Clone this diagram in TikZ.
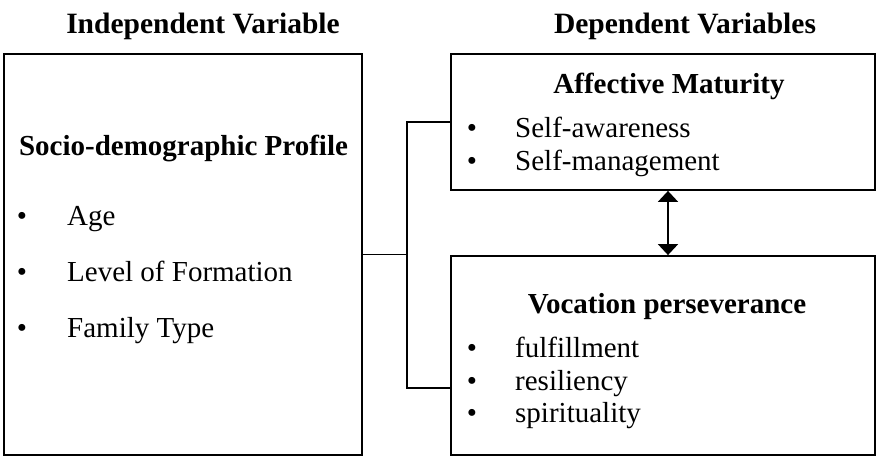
\documentclass[tikz,border=0pt]{standalone}
\usepackage{fontspec}
\setmainfont{Liberation Serif}
\usetikzlibrary{arrows.meta}
\begin{document}
\begin{tikzpicture}[x=1pt,y=-1pt,
  box/.style={draw, line width=1.8pt, minimum width=#1, inner sep=0pt},
  heading/.style={font=\fontsize{29.5}{32}\selectfont\bfseries, anchor=base, inner sep=0pt},
  title/.style={font=\fontsize{29}{32}\selectfont\bfseries, anchor=base, inner sep=0pt},
  item/.style={font=\fontsize{29}{32}\selectfont, anchor=base west, inner sep=0pt},
  bullet/.style={font=\fontsize{29}{32}\selectfont, anchor=base, inner sep=0pt},
  link/.style={line width=1.6pt},
  both/.style={line width=1.8pt, {Triangle[width=20pt,length=11pt]}-{Triangle[width=20pt,length=11pt]}}]
\useasboundingbox (0,0) rectangle (879,458);

% headings above the two columns
\node[heading] (hind) at (203,33) {Independent Variable};
\node[heading] (hdep) at (685,33) {Dependent Variables};

% variable boxes
\node[box=358pt, minimum height=401pt] (ind) at (183,254.5) {};
\node[box=424pt, minimum height=136pt] (aff) at (663,122) {};
\node[box=424pt, minimum height=199pt] (voc) at (663,355.5) {};

% independent variable
\node[title] (sdp) at (183.5,155) {Socio-demographic Profile};
\node[bullet] (b1) at (22,225) {•};
\node[item] (i1) at (67,225) {Age};
\node[bullet] (b2) at (22,281) {•};
\node[item] (i2) at (67,281) {Level of Formation};
\node[bullet] (b3) at (22,337) {•};
\node[item] (i3) at (67,337) {Family Type};

% affective maturity
\node[title] (am) at (669,93) {Affective Maturity};
\node[bullet] (a1b) at (472,137) {•};
\node[item] (a1) at (515,137) {Self-awareness};
\node[bullet] (a2b) at (472,170) {•};
\node[item] (a2) at (515,170) {Self-management};

% vocation perseverance
\node[title] (vp) at (667,313) {Vocation perseverance};
\node[bullet] (v1b) at (472,357) {•};
\node[item] (v1) at (515,357) {fulfillment};
\node[bullet] (v2b) at (472,390) {•};
\node[item] (v2) at (515,390) {resiliency};
\node[bullet] (v3b) at (472,422) {•};
\node[item] (v3) at (515,422) {spirituality};

% connectors
\coordinate (j) at (407,254.5);
\draw[link] (ind.east) -- (j);
\draw[link] (aff.west) -| (j) |- ([yshift=-32.5pt]voc.west);
\draw[both] (aff.south -| 668,0) -- (voc.north -| 668,0);
\end{tikzpicture}
\end{document}
